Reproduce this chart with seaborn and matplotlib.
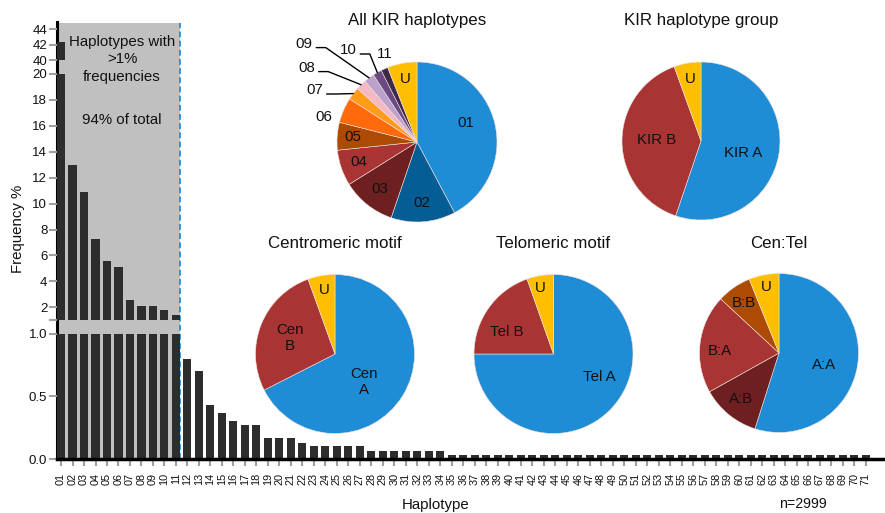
import numpy as np
import pandas as pd
import matplotlib
matplotlib.use('Agg')
import matplotlib.pyplot as plt
import seaborn as sns

# bar chart data (frequency %, n=2999)
haplotypes = ['01', '02', '03', '04', '05', '06', '07', '08', '09', '10',
              '11', '12', '13', '14', '15', '16', '17', '18', '19', '20',
              '21', '22', '23', '24', '25', '26', '27', '28', '29', '30',
              '31', '32', '33', '34', '35', '36', '37', '38', '39', '40',
              '41', '42', '43', '44', '45', '46', '47', '48', '49', '50',
              '51', '52', '53', '54', '55', '56', '57', '58', '59', '60',
              '61', '62', '63', '64', '65', '66', '67', '68', '69', '70',
              '71']
freq_major = [42.3, 13.0, 10.9, 7.25, 5.6, 5.1, 2.6, 2.1, 2.1, 1.8, 1.4]
freq_minor = [0.8, 0.7, 0.43, 0.37, 0.3, 0.27, 0.27, 0.17, 0.17, 0.17,
              0.13, 0.1, 0.1, 0.1, 0.1, 0.1, 0.067, 0.067, 0.067, 0.067,
              0.067, 0.067, 0.067, 0.033, 0.033, 0.033, 0.033, 0.033, 0.033, 0.033,
              0.033, 0.033, 0.033, 0.033, 0.033, 0.033, 0.033, 0.033, 0.033, 0.033,
              0.033, 0.033, 0.033, 0.033, 0.033, 0.033, 0.033, 0.033, 0.033, 0.033,
              0.033, 0.033, 0.033, 0.033, 0.033, 0.033, 0.033, 0.033, 0.033, 0.033]
n_total = 2999

# pie data
kir_labels = haplotypes[:11] + ['U']
kir_freq = freq_major + [sum(freq_minor)]
group_labels = ['KIR A', 'KIR B', 'U']
group_freq = [55.2, 39.3, 5.5]
cen_labels = ['Cen\nA', 'Cen\nB', 'U']
cen_freq = [67.5, 27.0, 5.5]
tel_labels = ['Tel A', 'Tel B', 'U']
tel_freq = [75.0, 19.6, 5.4]
centel_labels = ['A:A', 'A:B', 'B:A', 'B:B', 'U']
centel_freq = [54.9, 12.0, 20.0, 7.0, 6.1]

# colours
blue, dblue, dred, red, brown, yellow = '#1f8dd6', '#045d94', '#6e1f1f', '#a83434', '#ad4a03', '#ffbf00'
kir_colors = [blue, dblue, dred, red, brown, '#ff6a0a', '#ff9c1a', '#f5b9c3',
              '#bba2cc', '#6b4a82', '#3c2a4a', yellow]
bar_color = '#2d2d2d'
tick_gray = '#a0a0a0'

sns.set_style('white')
plt.rcParams['font.family'] = ['Liberation Sans', 'DejaVu Sans']
plt.rcParams['text.color'] = '#111111'

W, H = 885, 513
fig = plt.figure(figsize=(W / 100, H / 100), dpi=100)


def px_axes(left, top, right, bottom):
    return fig.add_axes([left / W, 1 - bottom / H, (right - left) / W, (bottom - top) / H])


x_lim = (-0.35, len(haplotypes) + 0.6)
bar_w = 0.7
split_x = len(freq_major) - 1 + bar_w / 2

df = pd.DataFrame({'haplotype': haplotypes, 'freq': freq_major + freq_minor})

# background: grey >1% region, dashed divider, continuous y spine
bg = px_axes(57, 21.5, 884, 459)
bg.set_xlim(x_lim)
bg.set_ylim(0, 1)
bg.axvspan(x_lim[0], split_x, ymax=0.996, color='#c0c0c0', lw=0)
bg.axvline(split_x, ymax=0.996, color='#1a86d0', ls=(0, (3.5, 2)), lw=1.2)
for s in ['top', 'right', 'bottom']:
    bg.spines[s].set_visible(False)
bg.spines['left'].set_color('black')
bg.spines['left'].set_linewidth(2.2)
bg.set_xticks([])
bg.set_yticks([])
bg.text(5.3, 0.914, 'Haplotypes with\n>1%\nfrequencies',
        ha='center', va='center', fontsize=10.8, linespacing=1.32)
bg.text(5.3, 0.775, '94% of total', ha='center', va='center', fontsize=10.8)

# broken y axis: three stacked segments
segments = [
    (21.5, 60.3, (40, 45), [40, 42, 44], ['40', '42', '44']),
    (74, 320.3, (1, 20), [1, 2, 4, 6, 8, 10, 12, 14, 16, 18, 20],
     ['', '2', '4', '6', '8', '10', '12', '14', '16', '18', '20']),
    (333.5, 459, (0, 1.0), [0, 0.5, 1.0], ['0.0', '0.5', '1.0']),
]
for i, (top, bottom, ylim, yt, ytl) in enumerate(segments):
    ax = px_axes(57, top, 884, bottom)
    ax.set_facecolor('none')
    sns.barplot(data=df, x='haplotype', y='freq', ax=ax, color=bar_color,
                saturation=1, width=bar_w, errorbar=None, linewidth=0, edgecolor='none')
    ax.set_xlim(x_lim)
    ax.set_ylim(ylim)
    ax.set_xlabel('')
    ax.set_ylabel('')
    for s in ['top', 'right', 'left', 'bottom']:
        ax.spines[s].set_visible(False)
    ax.set_yticks(yt)
    ax.set_yticklabels(ytl)
    ax.tick_params(axis='y', left=True, direction='out', length=5.5, width=1.5,
                   color=tick_gray, pad=1.5, labelsize=9.5, labelcolor='#111111')
    if i == 2:
        ax.spines['bottom'].set_visible(True)
        ax.spines['bottom'].set_color('black')
        ax.spines['bottom'].set_linewidth(2.5)
        ax.set_xticks(range(len(haplotypes)))
        ax.set_xticklabels(haplotypes, rotation=90)
        ax.tick_params(axis='x', bottom=True, direction='out', length=5, width=1.5,
                       color=tick_gray, pad=5, labelsize=7.8, labelcolor='#111111')
    else:
        ax.set_xticks([])

fig.text(18 / W, 1 - 229 / H, 'Frequency %', rotation=90, ha='center', va='center', fontsize=10.8)
fig.text(436 / W, 1 - 505 / H, 'Haplotype', ha='center', va='center', fontsize=10.8)
fig.text(803 / W, 1 - 504 / H, f'n={n_total}', ha='center', va='center', fontsize=10.2)


def draw_pie(cx, cy, r, values, labels, colors, title, title_y, dists, nudges):
    ax = px_axes(cx - 1.25 * r, cy - 1.25 * r, cx + 1.25 * r, cy + 1.25 * r)
    wedges, _ = ax.pie(values, colors=colors, startangle=90, counterclock=False,
                       wedgeprops=dict(linewidth=0.4, edgecolor='#f0e0e0'))
    ax.set_xlim(-1.25, 1.25)
    ax.set_ylim(-1.25, 1.25)
    ax.text(0, title_y, title, ha='center', va='center', fontsize=12.2)
    for w, lab, d, nd in zip(wedges, labels, dists, nudges):
        if d is None:
            continue
        ang = np.deg2rad((w.theta1 + w.theta2) / 2 + nd)
        ax.text(d * np.cos(ang), d * np.sin(ang), lab, ha='center', va='center', fontsize=10.8)
    return ax, wedges


# all KIR haplotypes
ax1, w1 = draw_pie(417, 142, 80, kir_freq, kir_labels, kir_colors, 'All KIR haplotypes', 1.516,
                   [0.65, 0.77, 0.75, 0.77, 0.8, None, None, None, None, None, None, 0.8],
                   [7.5, 0, 0, 0, 0, 0, 0, 0, 0, 0, 0, 0])
outside = {'06': (-1.17, 0.31), '07': (-1.28, 0.65), '08': (-1.38, 0.93),
           '09': (-1.41, 1.23), '10': (-0.86, 1.15), '11': (-0.40, 1.10)}
leader = ['07', '08', '09', '10']
for w, lab in zip(w1, kir_labels):
    if lab not in outside:
        continue
    lx, ly = outside[lab]
    ax1.text(lx, ly, lab, ha='center', va='center', fontsize=10.8)
    if lab in leader:
        ang = np.deg2rad((w.theta1 + w.theta2) / 2)
        sx, sy = lx + 0.15, ly - 0.05
        ax1.plot([sx, sx + 0.12, 1.0 * np.cos(ang)], [sy, sy, 1.0 * np.sin(ang)],
                 color='black', lw=1.0, clip_on=False)

draw_pie(701, 141, 79, group_freq, group_labels, [blue, red, yellow], 'KIR haplotype group', 1.52,
         [0.55, 0.56, 0.8], [-6, -1.5, 0])
draw_pie(335, 354, 79.5, cen_freq, cen_labels, [blue, red, yellow], 'Centromeric motif', 1.39,
         [0.51, 0.6, 0.82], [-12, 2, 0])
draw_pie(553.5, 354, 79.5, tel_freq, tel_labels, [blue, red, yellow], 'Telomeric motif', 1.39,
         [0.64, 0.65, 0.85], [18, 10, 2])
draw_pie(779, 353, 79.5, centel_freq, centel_labels, [blue, dred, red, brown, yellow], 'Cen:Tel', 1.38,
         [0.59, 0.75, 0.75, 0.77, 0.84], [-6, 0, 5, 0, 0])

fig.savefig('out.png', dpi=100)
